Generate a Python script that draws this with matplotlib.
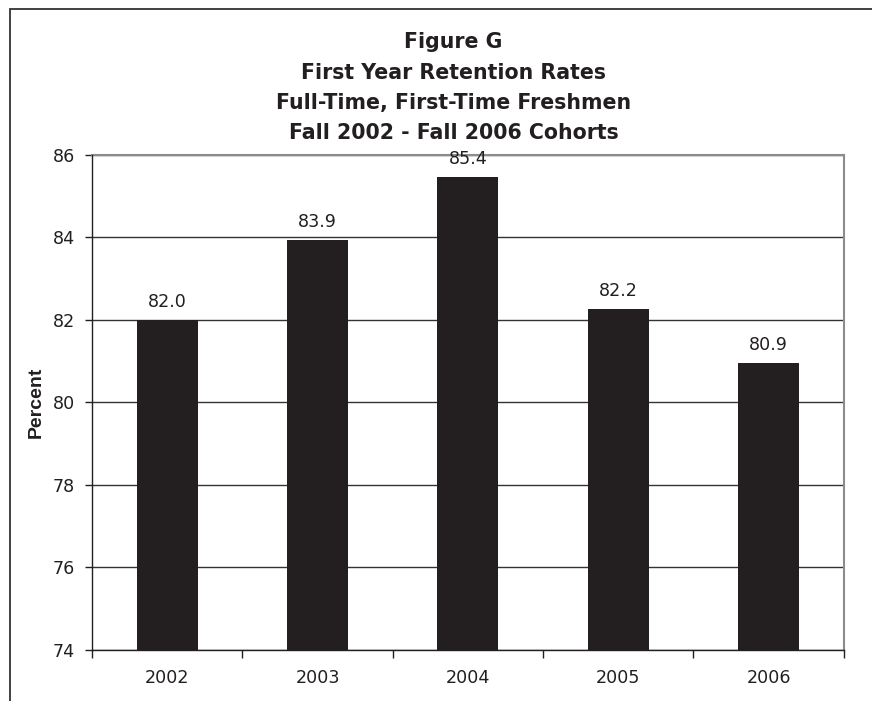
import matplotlib
matplotlib.use("Agg")
import matplotlib.pyplot as plt
from matplotlib.patches import Rectangle

# the original is a little stretched sideways, DejaVu's wider glyphs match it better
plt.rcParams['font.family'] = ['DejaVu Sans']

years = ['2002', '2003', '2004', '2005', '2006']
rates = [82.0, 83.94, 85.46, 82.26, 80.95]
rate_labels = ['82.0', '83.9', '85.4', '82.2', '80.9']
title_lines = ['Figure G', 'First Year Retention Rates',
               'Full-Time, First-Time Freshmen', 'Fall 2002 - Fall 2006 Cohorts']

ink = '#231f20'
W, H = 872, 701

fig = plt.figure(figsize=(W / 100, H / 100), dpi=100)
ax = fig.add_axes([92 / W, 1 - 650 / H, (843.7 - 92) / W, (650 - 155) / H])

x = list(range(len(years)))
ax.bar(x, rates, width=0.406, color=ink, zorder=3)

ymin, ymax = 74, 86
ax.set_ylim(ymin, ymax)
ax.set_xlim(-0.5, len(years) - 0.5)
ax.set_yticks(range(ymin, ymax + 1, 2))
ax.set_xticks(x)
ax.set_xticklabels(years)
ax.set_xticks([i - 0.5 for i in range(len(years) + 1)], minor=True)

ax.tick_params(axis='x', which='major', length=0, pad=14, labelsize=12.6, labelcolor=ink)
ax.tick_params(axis='x', which='minor', length=6, width=1, color=ink, direction='out')
ax.tick_params(axis='y', length=5, width=1, color=ink, pad=7, labelsize=12.6, labelcolor=ink)

ax.yaxis.grid(True, color='#333333', linewidth=1)
ax.set_axisbelow(True)

for side in ['top', 'right']:
    ax.spines[side].set_color('#8c8c8c')
    ax.spines[side].set_linewidth(1.5)
for side in ['left', 'bottom']:
    ax.spines[side].set_color(ink)
    ax.spines[side].set_linewidth(1)
    ax.spines[side].set_zorder(4)

# value labels, kept inside the plot when the bar reaches the top
for xi, v, lab in zip(x, rates, rate_labels):
    if v + 0.5 > ymax:
        ax.annotate(lab, (xi, ymax), xytext=(0, -12), textcoords='offset points',
                    ha='center', va='baseline', fontsize=12.6, color=ink)
    else:
        ax.annotate(lab, (xi, v), xytext=(0, 9.5), textcoords='offset points',
                    ha='center', va='baseline', fontsize=12.6, color=ink)

ax.set_ylabel('Percent', fontsize=14, fontweight='bold', color=ink,
              family=['Liberation Sans', 'DejaVu Sans'])
ax.yaxis.set_label_coords((45 - 92) / (843.7 - 92), 0.5)

for i, line in enumerate(title_lines):
    fig.text(453.5 / W, 1 - (48.5 + 30.2 * i) / H, line, ha='center', va='baseline',
             fontsize=14.8, fontweight='bold', color=ink)

# outer frame, open at right and bottom like the cropped original
fig.patches.append(Rectangle((10 / W, -0.1), 1.2, 1 - 9 / H + 0.1, transform=fig.transFigure,
                             fill=False, edgecolor='#333333', linewidth=1.3))

fig.savefig('out.png', dpi=100)
